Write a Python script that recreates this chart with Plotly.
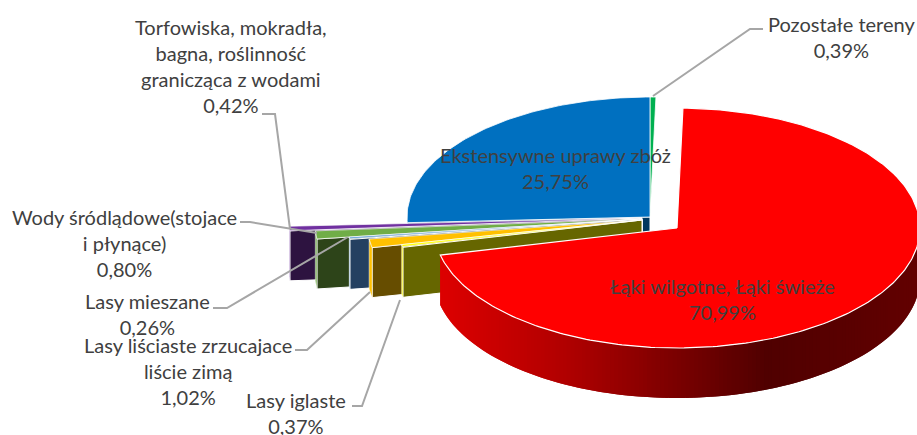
import math
import plotly.graph_objects as go

# ---- data (clockwise from the red slice) ----
categories = ["Łąki wilgotne, Łąki świeże", "Lasy iglaste", "Lasy liściaste zrzucajace liście zimą",
              "Lasy mieszane", "Wody śródlądowe(stojace i płynące)",
              "Torfowiska, mokradła, bagna, roślinność granicząca z wodami",
              "Ekstensywne uprawy zbóż", "Pozostałe tereny"]
values = [70.99, 0.37, 1.02, 0.26, 0.80, 0.42, 25.75, 0.39]

# ---- styling ----
top_colors = ["#FF0000", "#FFFF00", "#FFC000", "#5B9BD5", "#70AD47", "#7030A0", "#0070C0", "#00B050"]
wall_colors = ["#DD0000", "#666600", "#664D00", "#244061", "#2D4419", "#2D1340", "#003860", "#00602C"]
centers = [(677, 228), (642, 220), (642, 220), (642, 219), (642, 219), (642, 218), (650, 217), (650, 217)]
radius_scale = [1, 1.01, 1.134, 1.214, 1.348, 1.453, 1, 1]
RX, RY, DEPTH, START = 243, 120, 50, 1.4
TEXT = "#404040"
FONT = "Lato"
FS = 20

label_text = ["Łąki wilgotne, Łąki świeże<br>{}", "Lasy iglaste<br>{}", "Lasy liściaste zrzucajace<br>liście zimą<br>{}",
              "Lasy mieszane<br>{}", "Wody śródlądowe(stojace<br>i płynące)<br>{}",
              "Torfowiska, mokradła,<br>bagna, roślinność<br>granicząca z wodami<br>{}",
              "Ekstensywne uprawy zbóż<br>{}", "Pozostałe tereny<br>{}"]
label_pos = [(722, 299), (296, 413), (188, 371), (147, 314), (124, 243), (231, 66), (555, 168), (841, 37)]
leaders = [None,
           [(352, 406), (362, 406), (400, 300)],
           [(295, 350), (307, 350), (370, 292)],
           [(213, 308), (227, 308), (348, 237)],
           [(240, 222), (250, 222), (317, 233)],
           [(262, 114), (275, 114), (290, 229)],
           None,
           [(653, 96), (750, 29), (763, 29)]]

fig = go.Figure()


def poly(pts, fill, line="#FFFFFF", width=1.0):
    xs = [p[0] for p in pts] + [pts[0][0]]
    ys = [p[1] for p in pts] + [pts[0][1]]
    fig.add_trace(go.Scatter(x=xs, y=ys, mode="lines", fill="toself", fillcolor=fill,
                             line=dict(color=line, width=width), hoverinfo="skip", showlegend=False))


def pt(i, theta):
    cx, cy = centers[i]
    a = math.radians(theta)
    s = radius_scale[i]
    return (cx + RX * s * math.sin(a), cy - RY * s * math.cos(a))


def arc(i, t0, t1, n):
    return [pt(i, t0 + (t1 - t0) * k / n) for k in range(n + 1)]


def shade(x):
    stops = [(440, (221, 0, 0)), (567, (176, 0, 0)), (683, (119, 0, 0)), (767, (80, 0, 0)), (917, (98, 0, 0))]
    for (x0, c0), (x1, c1) in zip(stops, stops[1:]):
        if x <= x1:
            f = max(0, (x - x0) / (x1 - x0))
            return "rgb({},{},{})".format(*[round(a + (b - a) * f) for a, b in zip(c0, c1)])
    return "rgb(98,0,0)"


# slice angular ranges
total = sum(values)
ranges = []
t = START
for v in values:
    ranges.append((t, t + v / total * 360))
    t = ranges[-1][1]

for i in [7, 6, 5, 4, 3, 2, 1]:
    t0, t1 = ranges[i]
    apex = centers[i]
    rim0 = pt(i, t0)
    # radial wall facing the viewer
    poly([apex, rim0, (rim0[0], rim0[1] + DEPTH), (apex[0], apex[1] + DEPTH)], wall_colors[i])
    if i < 6:
        rim1 = pt(i, t1)
        poly([rim0, rim1, (rim1[0], rim1[1] + DEPTH), (rim0[0], rim0[1] + DEPTH)], top_colors[i], width=0.5)
    poly([apex] + arc(i, t0, t1, max(4, int(t1 - t0))), top_colors[i], width=0.7 if i < 6 else 0.8)

# the large red slice: shaded outer wall made of narrow overlapping strips, drawn right to left
t0, t1 = ranges[0]
step = 1.0
th = 90.0
while th < t1 - 1e-6:
    th2 = min(th + step, t1)
    a, b = pt(0, th), pt(0, min(th2 + step, t1))
    col = shade((a[0] + pt(0, th2)[0]) / 2)
    fig.add_trace(go.Scatter(x=[a[0], b[0], b[0], a[0], a[0]],
                             y=[a[1], b[1], b[1] + DEPTH, a[1] + DEPTH, a[1]],
                             mode="lines", fill="toself", fillcolor=col, line=dict(width=0, color=col),
                             hoverinfo="skip", showlegend=False))
    th = th2
poly([centers[0]] + arc(0, t0, t1, 260), top_colors[0], width=1.2)

# leader lines
for seg in leaders:
    if seg:
        fig.add_trace(go.Scatter(x=[p[0] for p in seg], y=[p[1] for p in seg], mode="lines",
                                 line=dict(color="#A6A6A6", width=2), hoverinfo="skip", showlegend=False))

# labels
for val, tpl, (lx, ly) in zip(values, label_text, label_pos):
    fig.add_annotation(x=lx, y=ly, xref="x", yref="y", showarrow=False, xanchor="center", yanchor="middle",
                       align="center", text=tpl.format(f"{val:.2f}".replace(".", ",") + "%"),
                       font=dict(family=FONT, size=FS, color=TEXT))

fig.update_layout(width=917, height=435, margin=dict(l=0, r=0, t=0, b=0),
                  paper_bgcolor="white", plot_bgcolor="white", showlegend=False,
                  xaxis=dict(range=[0, 917], visible=False, fixedrange=True),
                  yaxis=dict(range=[435, 0], visible=False, fixedrange=True))
fig.write_html("out.html", config={"displayModeBar": False},
               post_script="document.body.style.margin='0';document.body.style.overflow='hidden';")
